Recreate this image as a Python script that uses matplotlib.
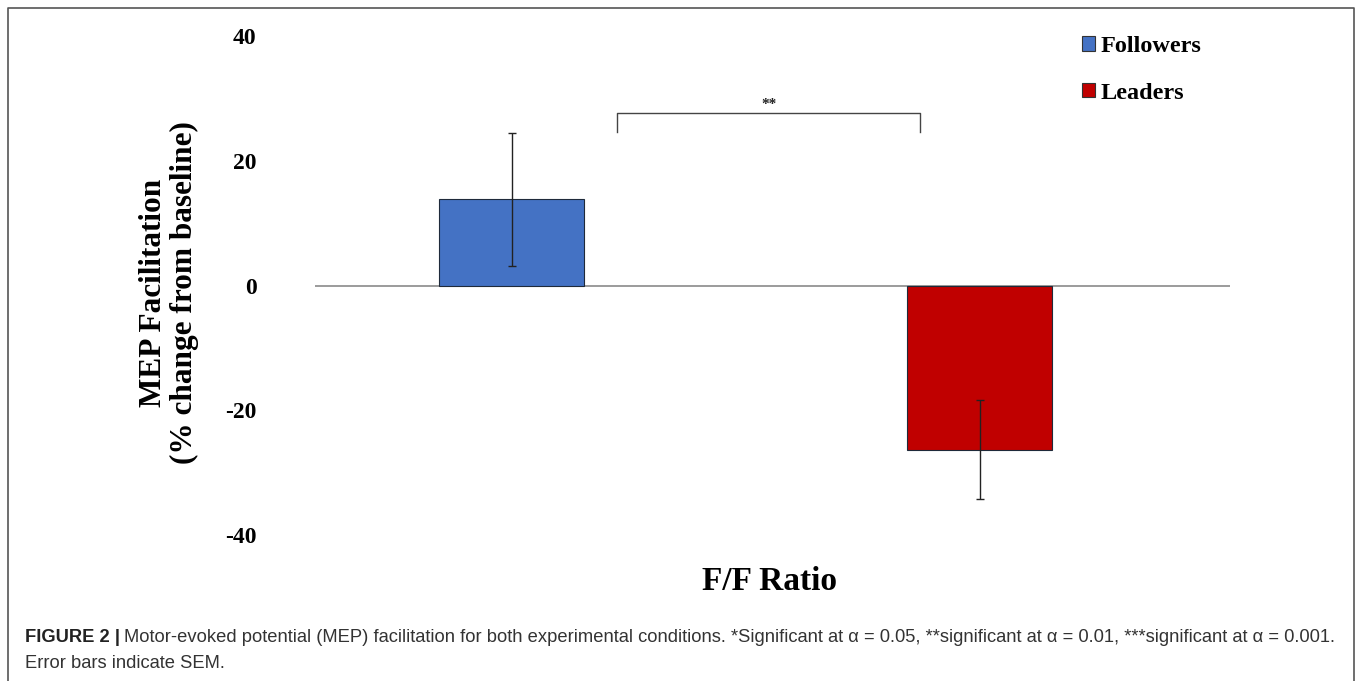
import matplotlib
matplotlib.use("Agg")
import matplotlib.pyplot as plt
from matplotlib.patches import Patch

categories = ["Followers", "Leaders"]
values = [13.8, -26.3]
errors = [10.6, 7.9]
colors = ["#4472C4", "#C00000"]
yticks = [-40, -20, 0, 20, 40]
sig_label = "**"

W, H = 1358, 681
fig = plt.figure(figsize=(W / 100, H / 100), dpi=100)
serif = ["Liberation Serif", "DejaVu Serif"]

# axes placed in pixel terms
left, right, top, bottom = 315, 1230, 36, 535
ax = fig.add_axes([left / W, 1 - bottom / H, (right - left) / W, (bottom - top) / H])

x = [0, 1]
ax.bar(x, values, width=0.31, color=colors, edgecolor="#1f2a3a", linewidth=0.8, zorder=3)
ax.errorbar(x, values, yerr=errors, fmt="none", ecolor="#222222", elinewidth=1.0,
            capsize=3, capthick=1.0, zorder=4)
ax.axhline(0, color="#8a8a8a", linewidth=1.2, zorder=2)

ax.set_xlim(-0.42, 1.535)
ax.set_ylim(-40, 40)
ax.set_yticks(yticks)
ax.set_yticklabels([str(t) for t in yticks], fontfamily=serif, fontweight="bold", fontsize=17)
ax.tick_params(axis="y", length=0, pad=42)
ax.set_xticks([])
for s in ax.spines.values():
    s.set_visible(False)

# significance bracket
by0, by1 = 24.6, 27.6
bx0, bx1 = 0.225, 0.873
ax.plot([bx0, bx0, bx1, bx1], [by0, by1, by1, by0], color="#444444", linewidth=1.0, zorder=5)
ax.text((bx0 + bx1) / 2, by1 + 0.3, sig_label, ha="center", va="bottom",
        fontsize=11, fontfamily=serif, fontweight="bold", color="#222222")

# y label
fig.text(169 / W, 1 - 293 / H, "MEP Facilitation\n(% change from baseline)", rotation=90,
         ha="center", va="center", fontfamily=serif, fontweight="bold", fontsize=22.5,
         linespacing=1.1)
# x label
fig.text(770 / W, 1 - 581 / H, "F/F Ratio", ha="center", va="center",
         fontfamily=serif, fontweight="bold", fontsize=24)

# legend
handles = [Patch(facecolor=c, edgecolor="#333333", linewidth=0.8) for c in colors]
leg = fig.legend(handles, categories, loc="upper left", bbox_to_anchor=(1082 / W, 1 - 36 / H),
                 frameon=False, prop={"family": serif, "weight": "bold", "size": 17.5},
                 handlelength=0.55, handleheight=0.55, handletextpad=0.2, labelspacing=1.05,
                 borderaxespad=0, borderpad=0)

# outer border (open at bottom)
fig.add_artist(plt.Line2D([8 / W, 8 / W, 1354 / W, 1354 / W], [0, 1 - 8 / H, 1 - 8 / H, 0],
                          transform=fig.transFigure, color="#555555", linewidth=1.2))

# caption
sans = ["Liberation Sans", "DejaVu Sans"]
fs = 13.2
cap_y1 = 1 - 638 / H
cap_y2 = 1 - 664 / H
t1 = fig.text(25 / W, cap_y1, "FIGURE 2 |", ha="left", va="center", fontfamily=sans,
              fontweight="bold", fontsize=fs, color="#222222")
fig.canvas.draw()
bb = t1.get_window_extent()
fig.text((bb.x1 + 4) / W, cap_y1,
         "Motor-evoked potential (MEP) facilitation for both experimental conditions. "
         "*Significant at α = 0.05, **significant at α = 0.01, ***significant at α = 0.001.",
         ha="left", va="center", fontfamily=sans, fontsize=fs, color="#333333")
fig.text(25 / W, cap_y2, "Error bars indicate SEM.", ha="left", va="center",
         fontfamily=sans, fontsize=fs, color="#333333")

fig.savefig("out.png", dpi=100)
